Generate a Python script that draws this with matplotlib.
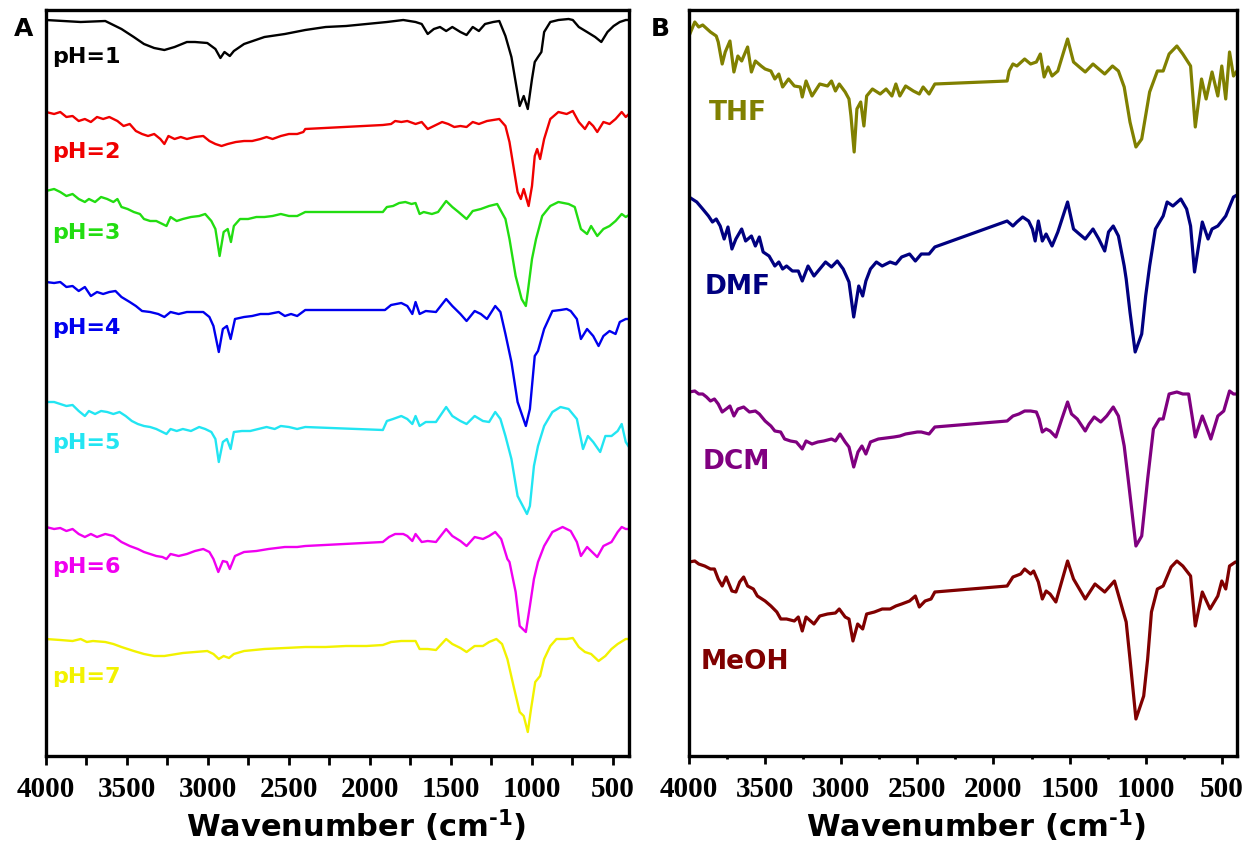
import matplotlib
matplotlib.use('Agg')
import matplotlib.pyplot as plt
from matplotlib.ticker import FixedLocator

plt.rcParams['mathtext.fontset'] = 'custom'
plt.rcParams['mathtext.rm'] = 'DejaVu Sans:bold'
plt.rcParams['mathtext.bf'] = 'DejaVu Sans:bold'
plt.rcParams['mathtext.it'] = 'DejaVu Sans:bold'

# ---------------- data (wavenumber in cm-1, absorption depth in a.u.) -------------
ph1_wn = [4000, 3786, 3634, 3534, 3458, 3395, 3332, 3269, 3206, 3130, 3080, 3004, 2954, 2923, 2898, 2865, 2840, 2777, 2651, 2525, 2399, 2273, 2147, 2021, 1895, 1794, 1718, 1680, 1643, 1605, 1567, 1529, 1491, 1441, 1403, 1365, 1327, 1289, 1239, 1201, 1163, 1126, 1100, 1075, 1050, 1025, 999, 982, 962, 941, 924, 886, 836, 773, 747, 710, 659, 609, 571, 533, 495, 457, 420, 400]
ph1_abs = [0, 2, 1, 9, 17, 24, 28, 30, 27, 22, 22, 23, 29, 38, 32, 36, 31, 24, 17, 14, 10, 7, 6, 4, 2, 0, 2, 4, 14, 9, 7, 11, 7, 12, 15, 7, 11, 4, 2, 1, 16, 37, 62, 86, 76, 89, 59, 42, 37, 32, 12, 2, 0, -1, 0, 7, 12, 17, 22, 12, 6, 2, 0, 0]

ph2_wn = [4000, 3950, 3912, 3874, 3836, 3798, 3760, 3723, 3685, 3647, 3609, 3559, 3521, 3483, 3445, 3407, 3370, 3332, 3294, 3269, 3244, 3206, 3168, 3130, 3080, 3029, 2991, 2954, 2916, 2878, 2828, 2777, 2727, 2676, 2638, 2601, 2550, 2500, 2449, 2411, 2399, 1920, 1869, 1844, 1806, 1769, 1718, 1680, 1643, 1605, 1554, 1516, 1479, 1441, 1403, 1365, 1327, 1277, 1201, 1163, 1138, 1108, 1088, 1068, 1050, 1020, 999, 982, 967, 949, 924, 886, 836, 785, 747, 710, 672, 646, 621, 596, 558, 520, 483, 445, 420, 400]
ph2_abs = [0, 2, 0, 5, 4, 9, 7, 10, 5, 7, 5, 9, 14, 12, 19, 22, 24, 22, 27, 32, 24, 27, 25, 27, 25, 24, 29, 32, 34, 32, 30, 29, 29, 27, 25, 27, 24, 22, 22, 20, 17, 13, 12, 9, 10, 9, 12, 10, 17, 14, 10, 12, 15, 14, 15, 10, 12, 9, 7, 14, 30, 60, 80, 87, 77, 94, 74, 44, 37, 47, 27, 7, 0, 2, -1, 10, 17, 10, 14, 20, 10, 12, 7, 0, 5, 2]

ph3_wn = [4000, 3950, 3912, 3874, 3836, 3798, 3760, 3735, 3697, 3660, 3622, 3584, 3559, 3534, 3496, 3458, 3420, 3395, 3357, 3319, 3281, 3256, 3231, 3193, 3155, 3105, 3054, 3017, 2979, 2954, 2928, 2903, 2878, 2858, 2840, 2802, 2752, 2701, 2651, 2601, 2550, 2500, 2449, 2399, 1920, 1895, 1857, 1819, 1781, 1743, 1718, 1693, 1668, 1617, 1579, 1529, 1491, 1453, 1403, 1365, 1315, 1264, 1214, 1163, 1138, 1100, 1063, 1037, 1025, 999, 974, 936, 886, 836, 773, 735, 697, 659, 634, 596, 558, 520, 483, 445, 420, 400]
ph3_abs = [0, -2, 1, 5, 3, 8, 11, 8, 11, 6, 8, 11, 8, 16, 18, 21, 23, 28, 30, 30, 33, 35, 26, 30, 28, 26, 25, 23, 30, 38, 65, 41, 38, 51, 35, 28, 28, 26, 26, 25, 23, 25, 25, 21, 21, 16, 15, 12, 11, 13, 12, 23, 21, 23, 21, 10, 16, 21, 28, 20, 18, 15, 13, 28, 48, 85, 108, 115, 101, 68, 48, 25, 15, 11, 13, 16, 38, 43, 35, 45, 38, 35, 30, 23, 26, 24]

ph4_wn = [4000, 3950, 3912, 3874, 3836, 3798, 3760, 3723, 3685, 3647, 3609, 3571, 3534, 3483, 3445, 3407, 3357, 3307, 3269, 3231, 3181, 3130, 3080, 3029, 2991, 2966, 2933, 2908, 2883, 2860, 2833, 2777, 2727, 2676, 2626, 2563, 2525, 2487, 2449, 2399, 1907, 1869, 1806, 1769, 1738, 1718, 1693, 1655, 1592, 1529, 1491, 1441, 1403, 1353, 1315, 1277, 1226, 1194, 1163, 1126, 1088, 1037, 1012, 982, 962, 924, 873, 823, 785, 760, 722, 697, 659, 621, 588, 558, 520, 483, 457, 420, 400]
ph4_abs = [0, 1, 0, 5, 4, 9, 5, 14, 10, 12, 10, 9, 15, 20, 24, 29, 30, 32, 35, 30, 32, 30, 30, 30, 35, 44, 70, 47, 44, 57, 37, 35, 34, 32, 32, 30, 34, 32, 34, 28, 28, 23, 21, 24, 32, 20, 32, 29, 30, 17, 24, 32, 39, 29, 32, 37, 24, 30, 52, 80, 120, 144, 127, 74, 69, 47, 29, 28, 27, 29, 37, 57, 47, 54, 64, 54, 49, 52, 40, 37, 37]

ph5_wn = [4000, 3950, 3912, 3874, 3836, 3798, 3760, 3735, 3697, 3660, 3622, 3584, 3546, 3508, 3470, 3433, 3395, 3357, 3319, 3281, 3256, 3231, 3193, 3155, 3105, 3054, 3017, 2979, 2954, 2933, 2908, 2883, 2860, 2840, 2790, 2739, 2689, 2638, 2588, 2550, 2500, 2449, 2399, 1920, 1895, 1857, 1806, 1769, 1738, 1718, 1693, 1655, 1592, 1529, 1491, 1441, 1403, 1353, 1302, 1264, 1226, 1194, 1163, 1126, 1088, 1030, 1012, 987, 962, 924, 873, 823, 773, 722, 684, 654, 621, 578, 546, 508, 470, 445, 420, 400]
ph5_abs = [0, 0, 2, 4, 3, 9, 14, 9, 12, 9, 10, 12, 10, 14, 19, 22, 24, 25, 27, 30, 32, 27, 29, 27, 29, 25, 27, 30, 37, 60, 40, 37, 47, 30, 29, 29, 27, 25, 27, 24, 25, 27, 25, 28, 19, 17, 14, 17, 22, 14, 24, 20, 20, 5, 14, 19, 22, 14, 19, 20, 10, 17, 34, 57, 94, 112, 104, 64, 44, 24, 10, 5, 7, 17, 47, 34, 40, 50, 34, 34, 29, 22, 40, 45]

ph6_wn = [4000, 3950, 3912, 3874, 3836, 3798, 3760, 3723, 3685, 3634, 3584, 3534, 3483, 3433, 3395, 3357, 3319, 3281, 3256, 3231, 3181, 3130, 3080, 3029, 2991, 2966, 2936, 2908, 2883, 2865, 2833, 2777, 2701, 2626, 2525, 2449, 2399, 1920, 1882, 1844, 1794, 1769, 1738, 1718, 1680, 1643, 1592, 1529, 1491, 1441, 1403, 1353, 1302, 1264, 1226, 1189, 1151, 1138, 1100, 1075, 1037, 1012, 987, 962, 924, 873, 810, 760, 722, 697, 659, 634, 596, 558, 508, 470, 445, 420, 400]
ph6_abs = [0, 2, 1, 4, 2, 7, 10, 7, 10, 7, 9, 15, 19, 22, 25, 27, 29, 30, 32, 27, 29, 27, 24, 22, 25, 32, 45, 34, 35, 42, 29, 25, 24, 22, 20, 20, 19, 15, 10, 7, 7, 9, 14, 7, 15, 14, 15, 2, 9, 14, 19, 10, 12, 9, 5, 12, 32, 35, 65, 99, 105, 79, 52, 35, 19, 5, 0, 4, 15, 29, 20, 24, 30, 19, 15, 5, 0, 2, 2]

ph7_wn = [4000, 3912, 3836, 3786, 3748, 3710, 3634, 3584, 3534, 3458, 3395, 3332, 3269, 3231, 3155, 3080, 3004, 2966, 2933, 2903, 2870, 2840, 2777, 2651, 2525, 2399, 2273, 2147, 2021, 1920, 1869, 1806, 1769, 1718, 1693, 1643, 1592, 1529, 1491, 1441, 1403, 1353, 1302, 1264, 1219, 1184, 1151, 1113, 1075, 1050, 1025, 1005, 979, 949, 924, 886, 848, 785, 747, 710, 672, 634, 588, 546, 508, 470, 420, 400]
ph7_abs = [0, 1, 2, 0, 3, 2, 3, 5, 8, 12, 15, 17, 17, 16, 14, 13, 12, 15, 20, 17, 19, 15, 12, 10, 9, 8, 8, 7, 7, 6, 3, 2, 2, 2, 10, 10, 11, 0, 5, 9, 13, 7, 7, 3, 0, 5, 20, 47, 73, 77, 93, 70, 43, 37, 20, 7, 0, 0, -1, 8, 13, 15, 22, 17, 10, 5, 0, 0]

thf_wn = [4000, 3962, 3936, 3910, 3859, 3821, 3808, 3782, 3762, 3731, 3705, 3679, 3654, 3615, 3590, 3564, 3526, 3500, 3462, 3436, 3410, 3385, 3346, 3308, 3269, 3256, 3231, 3192, 3141, 3090, 3064, 3038, 3013, 2974, 2949, 2936, 2915, 2897, 2872, 2851, 2833, 2795, 2744, 2705, 2667, 2641, 2615, 2577, 2526, 2487, 2462, 2423, 2385, 1910, 1897, 1872, 1846, 1795, 1756, 1718, 1692, 1667, 1641, 1615, 1577, 1513, 1474, 1436, 1397, 1346, 1308, 1269, 1218, 1179, 1141, 1103, 1064, 1026, 974, 923, 885, 846, 795, 756, 705, 674, 633, 603, 564, 526, 500, 474, 449, 423, 400]
thf_abs = [0, -14, -9, -11, -4, 0, 6, 28, 16, 5, 36, 20, 25, 11, 36, 25, 30, 33, 35, 43, 38, 51, 43, 50, 51, 61, 45, 60, 48, 50, 45, 55, 48, 56, 63, 80, 116, 73, 66, 90, 60, 53, 58, 53, 60, 48, 60, 50, 55, 58, 51, 58, 48, 45, 35, 28, 30, 23, 28, 26, 18, 41, 31, 40, 35, 3, 26, 31, 36, 28, 33, 38, 30, 35, 51, 86, 111, 103, 56, 35, 35, 18, 10, 18, 30, 91, 43, 63, 36, 60, 30, 63, 16, 40, 35]

dmf_wn = [4000, 3949, 3910, 3872, 3846, 3821, 3795, 3769, 3744, 3718, 3692, 3654, 3628, 3590, 3564, 3538, 3513, 3474, 3436, 3410, 3385, 3359, 3321, 3282, 3256, 3218, 3179, 3141, 3103, 3064, 3026, 2987, 2949, 2918, 2885, 2859, 2838, 2808, 2769, 2731, 2679, 2641, 2603, 2551, 2513, 2474, 2423, 2385, 1910, 1872, 1846, 1808, 1769, 1744, 1726, 1705, 1679, 1654, 1615, 1577, 1513, 1474, 1436, 1397, 1346, 1308, 1269, 1244, 1213, 1179, 1141, 1128, 1103, 1069, 1026, 1000, 974, 936, 885, 859, 821, 769, 731, 705, 679, 628, 590, 564, 526, 474, 423, 400]
dmf_abs = [0, 5, 12, 19, 25, 22, 29, 42, 30, 52, 42, 32, 44, 39, 49, 40, 55, 59, 69, 65, 72, 69, 74, 74, 84, 69, 79, 72, 65, 70, 64, 72, 85, 120, 89, 99, 84, 72, 65, 69, 65, 67, 60, 57, 64, 57, 57, 50, 24, 29, 25, 20, 24, 32, 44, 24, 44, 37, 49, 35, 5, 32, 37, 42, 32, 42, 54, 35, 29, 39, 69, 82, 115, 155, 137, 99, 69, 32, 19, 5, 9, 2, 12, 29, 75, 25, 42, 32, 29, 19, 0, -2]

dcm_wn = [4000, 3962, 3936, 3910, 3885, 3859, 3833, 3808, 3782, 3756, 3731, 3705, 3679, 3641, 3603, 3564, 3538, 3500, 3462, 3436, 3398, 3372, 3333, 3295, 3256, 3231, 3192, 3154, 3115, 3064, 3038, 3008, 2974, 2949, 2918, 2890, 2864, 2838, 2808, 2756, 2705, 2654, 2615, 2577, 2538, 2500, 2474, 2423, 2385, 1910, 1872, 1833, 1795, 1756, 1718, 1700, 1679, 1654, 1628, 1590, 1551, 1513, 1487, 1449, 1397, 1372, 1338, 1295, 1256, 1213, 1179, 1141, 1115, 1064, 1026, 987, 949, 910, 885, 846, 795, 756, 718, 692, 674, 628, 603, 572, 526, 487, 449, 423, 400]
dcm_abs = [0, -1, 2, 2, 5, 9, 7, 12, 20, 17, 14, 24, 17, 15, 20, 19, 22, 29, 34, 39, 40, 47, 49, 50, 57, 49, 52, 50, 49, 47, 49, 42, 50, 55, 75, 60, 54, 62, 50, 47, 46, 45, 44, 42, 41, 40, 40, 42, 35, 29, 24, 22, 19, 19, 20, 27, 40, 37, 39, 45, 27, 10, 22, 27, 39, 32, 25, 30, 24, 15, 24, 54, 87, 154, 144, 87, 37, 27, 27, 2, 0, 2, 2, 27, 45, 24, 34, 47, 24, 19, -1, 2, 2]

meoh_wn = [4000, 3962, 3936, 3897, 3859, 3833, 3808, 3782, 3756, 3718, 3692, 3667, 3641, 3615, 3577, 3551, 3500, 3462, 3423, 3397, 3359, 3308, 3282, 3256, 3231, 3179, 3141, 3090, 3038, 3013, 2974, 2949, 2923, 2892, 2859, 2833, 2782, 2731, 2679, 2641, 2603, 2551, 2513, 2487, 2449, 2410, 2385, 1910, 1872, 1821, 1795, 1756, 1736, 1705, 1679, 1654, 1628, 1590, 1513, 1474, 1397, 1333, 1269, 1205, 1128, 1103, 1064, 1013, 987, 962, 923, 885, 833, 795, 756, 705, 674, 628, 577, 526, 500, 474, 449, 410, 400]
meoh_abs = [0, -1, 2, 4, 7, 7, 17, 24, 15, 29, 30, 20, 15, 24, 27, 34, 39, 44, 50, 57, 57, 59, 55, 69, 55, 62, 54, 52, 51, 47, 55, 57, 79, 62, 67, 52, 50, 47, 47, 44, 42, 39, 34, 45, 39, 37, 30, 24, 15, 12, 7, 12, 9, 20, 37, 29, 32, 40, -1, 17, 37, 22, 30, 19, 60, 97, 157, 134, 97, 50, 27, 24, 5, -1, 4, 14, 64, 30, 47, 34, 19, 27, 4, 0, 0]

ph_labels = ['pH=1', 'pH=2', 'pH=3', 'pH=4', 'pH=5', 'pH=6', 'pH=7']
solvent_labels = ['THF', 'DMF', 'DCM', 'MeOH']
tick_values = [4000, 3500, 3000, 2500, 2000, 1500, 1000, 500]
tick_labels = ['4000', '3500', '3000', '2500', '2000', '1500', '1000', '500']

# ---------------- styling / layout -------------------------------------------
ph_colors = ['#000000', '#F00000', '#22DD11', '#0000EE', '#22E5F2', '#F000F0', '#F2F200']
sol_colors = ['#808000', '#000080', '#800080', '#800000']
ph_offsets = [736, 644, 565, 474, 354, 229, 117]
ph_label_y = [700, 605, 524, 429, 314, 190, 80]
sol_offsets = [720, 559, 364, 194]
sol_label_y = [644, 470, 295, 95]
sol_label_x = [3872, 3897, 3910, 3923]

W, H = 1252, 853
fig = plt.figure(figsize=(W / 100, H / 100), dpi=100)
axA = fig.add_axes([46 / W, 96 / H, 583 / W, 746 / H])
axB = fig.add_axes([689 / W, 96 / H, 548 / W, 746 / H])

tick_font = dict(family='Liberation Serif', weight='bold', size=21)
for ax, minor_len in ((axA, 6.5), (axB, 2.2)):
    ax.set_xlim(4000, 400)
    ax.set_ylim(0, 746)
    ax.set_yticks([])
    ax.xaxis.set_major_locator(FixedLocator(tick_values))
    ax.xaxis.set_minor_locator(FixedLocator([v - 250 for v in tick_values[:-1]]))
    ax.set_xticklabels(tick_labels, fontdict=tick_font)
    ax.tick_params(axis='x', which='major', length=6.5 if ax is axA else 6,
                   width=2, direction='out', pad=7.5)
    ax.tick_params(axis='x', which='minor', length=minor_len, width=2, direction='out')
    for s in ax.spines.values():
        s.set_linewidth(2.4)
    ax.set_xlabel(r'Wavenumber (cm$^{\text{-1}}$)', fontsize=22,
                  fontweight='bold', family='DejaVu Sans')

axA.xaxis.set_label_coords(0.532, -0.068)
axB.xaxis.set_label_coords(0.524, -0.068)

ph_data = [(ph1_wn, ph1_abs), (ph2_wn, ph2_abs), (ph3_wn, ph3_abs), (ph4_wn, ph4_abs),
           (ph5_wn, ph5_abs), (ph6_wn, ph6_abs), (ph7_wn, ph7_abs)]
for (wn, ab), off, col, lab, ly in zip(ph_data, ph_offsets, ph_colors, ph_labels, ph_label_y):
    axA.plot(wn, [off - a for a in ab], color=col, lw=1.7, solid_joinstyle='round')
    axA.text(3963, ly, lab, color=col, fontsize=16, fontweight='bold',
             family='DejaVu Sans', ha='left', va='center')

sol_data = [(thf_wn, thf_abs), (dmf_wn, dmf_abs), (dcm_wn, dcm_abs), (meoh_wn, meoh_abs)]
for (wn, ab), off, col, lab, lx, ly in zip(sol_data, sol_offsets, sol_colors,
                                           solvent_labels, sol_label_x, sol_label_y):
    axB.plot(wn, [off - a for a in ab], color=col, lw=2.3, solid_joinstyle='round')
    axB.text(lx, ly, lab, color=col, fontsize=19, fontweight='bold',
             family='DejaVu Sans', ha='left', va='center')

fig.text(24 / W, 1 - 29.5 / H, 'A', fontsize=18, fontweight='bold',
         family='DejaVu Sans', ha='center', va='center')
fig.text(660 / W, 1 - 28.5 / H, 'B', fontsize=18, fontweight='bold',
         family='DejaVu Sans', ha='center', va='center')

fig.savefig('out.png', dpi=100)
